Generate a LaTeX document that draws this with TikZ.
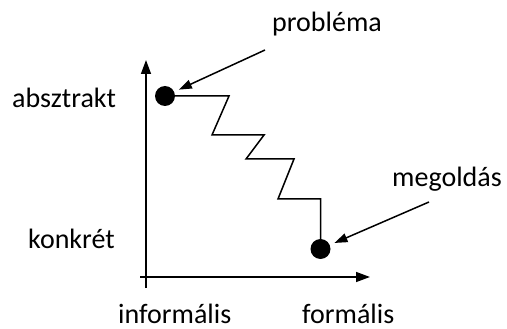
\documentclass[tikz,border=0pt]{standalone}
\usepackage{fontspec}
\setmainfont{Carlito}
\usetikzlibrary{arrows.meta}

\begin{document}
\begin{tikzpicture}[
  x=1pt,
  y=-1pt,
  every node/.style={font=\fontsize{28}{32}\selectfont, inner sep=0pt, anchor=base west},
  axis/.style={line width=1.5pt, -{Triangle[length=14pt,width=10pt]}},
  pointer/.style={line width=1.5pt, -{Triangle[length=13pt,width=9pt]}, shorten >=5pt},
  dot/.style={circle, fill=black, minimum size=20pt, inner sep=0pt, anchor=center}
]
  \useasboundingbox (0,0) rectangle (507,329);

  % axes
  \coordinate (ybot) at (146,288);
  \coordinate (ytop) at (146,60);
  \coordinate (xleft) at (140,277);
  \coordinate (xright) at (370,277);
  \draw[axis] (ybot) -- (ytop);
  \draw[axis] (xleft) -- (xright);

  % axis labels
  \node (abstract) at (12,108) {absztrakt};
  \node (concrete) at (28,248) {konkrét};
  \node (informal) at (118,323) {informális};
  \node (formal) at (302,323) {formális};

  % start and end
  \node[dot] (problem) at (165,96) {};
  \node[dot] (solution) at (320.5,249) {};

  % stairs
  \draw[line width=1.5pt] (problem.center) -- (229,96) -- (212,135) -- (264,135)
    -- (246,159) -- (294,159) -- (278,199) -- (320.5,199) -- (solution.center);

  % labels with pointers
  \node (problemlabel) at (272,32) {probléma};
  \node (solutionlabel) at (392,186) {megoldás};
  \coordinate (ptail) at (265,50);
  \coordinate (stail) at (429,202);
  \draw[pointer] (ptail) -- (problem);
  \draw[pointer] (stail) -- (solution);
\end{tikzpicture}
\end{document}
